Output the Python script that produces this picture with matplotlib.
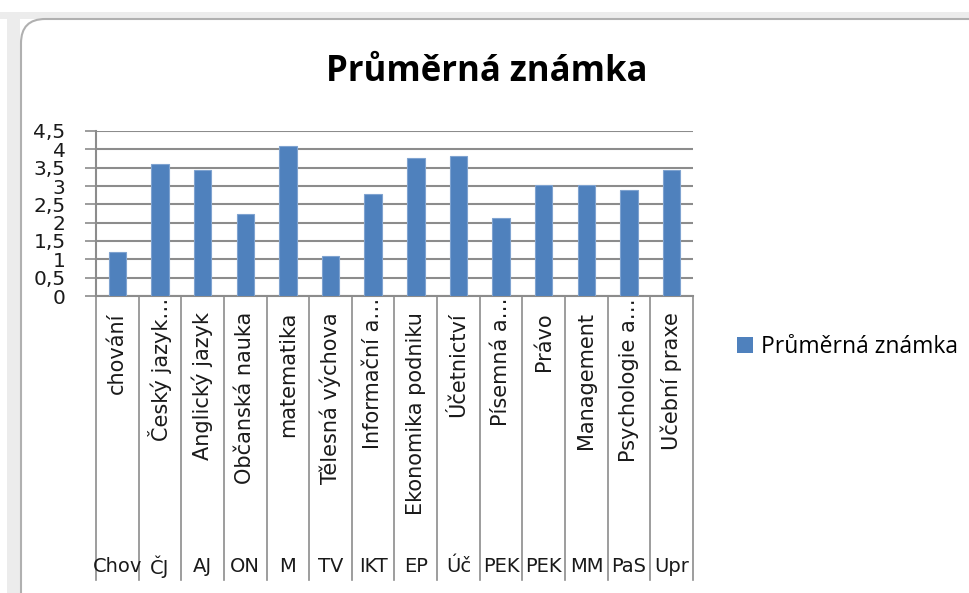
"""
Průměrná známka - Excel-style column chart with two-level category axis.
"""
import matplotlib
matplotlib.use('Agg')
import matplotlib.pyplot as plt
import matplotlib.transforms as mtransforms
from matplotlib.patches import FancyBboxPatch, Rectangle

plt.rcParams['font.family'] = ['Open Sans', 'DejaVu Sans']
label_font = ['DejaVu Sans']

# Data
subjects = ['chování', 'Český jazyk…', 'Anglický jazyk', 'Občanská nauka', 'matematika',
            'Tělesná výchova', 'Informační a…', 'Ekonomika podniku', 'Účetnictví',
            'Písemná a…', 'Právo', 'Management', 'Psychologie a…', 'Učební praxe']
abbrevs = ['Chov', 'ČJ', 'AJ', 'ON', 'M', 'TV', 'IKT', 'EP', 'Úč', 'PEK', 'PEK', 'MM', 'PaS', 'Upr']
grades = [1.2, 3.6, 3.43, 2.24, 4.1, 1.09, 2.79, 3.76, 3.82, 2.13, 3.02, 3.02, 2.9, 3.43]
yticks = [0, 0.5, 1, 1.5, 2, 2.5, 3, 3.5, 4, 4.5]
ytick_labels = ['0', '0,5', '1', '1,5', '2', '2,5', '3', '3,5', '4', '4,5']

W, H = 969, 593
fig = plt.figure(figsize=(W / 100, H / 100), dpi=100)
fig.patch.set_facecolor('white')

# Spreadsheet edges and chart frame (behind the axes)
fig.patches.append(Rectangle((0, 1 - 19 / H), 1, 7 / H, transform=fig.transFigure,
                             facecolor='#ececec', edgecolor='none', zorder=-10))
fig.patches.append(Rectangle((7 / W, 0), 13 / W, 1 - 12 / H, transform=fig.transFigure,
                             facecolor='#ececec', edgecolor='none', zorder=-10))
fig.patches.append(FancyBboxPatch((21 / W, -0.05), 1.1, 1 - 19 / H + 0.05,
                                  boxstyle='round,pad=0,rounding_size=0.025',
                                  transform=fig.transFigure, facecolor='white',
                                  edgecolor='#b0b0b0', linewidth=1.5, zorder=-9,
                                  mutation_aspect=W / H))

left, right, bottom, top = 96, 693, 296, 131
ax = fig.add_axes([left / W, 1 - bottom / H, (right - left) / W, (bottom - top) / H])
ax.set_facecolor('none')

x = list(range(len(subjects)))
ax.bar(x, grades, width=0.41, color='#4f81bd', edgecolor='#7fa3d0', linewidth=0.8, zorder=3)

ax.set_xlim(-0.5, len(subjects) - 0.5)
ax.set_ylim(0, 4.5)
ax.set_yticks(yticks)
ax.set_yticklabels(ytick_labels, fontsize=14.5, family=label_font, color='#1a1a1a')
ax.tick_params(axis='y', length=8, width=1.2, color='#8c8c8c', pad=14)
ax.set_xticks([])
ax.grid(axis='y', color='#8c8c8c', linewidth=1.5, zorder=1)
for s in ['top', 'right']:
    ax.spines[s].set_visible(False)
for s in ['left', 'bottom']:
    ax.spines[s].set_color('#8c8c8c')
    ax.spines[s].set_linewidth(1.5)

# Two-level category axis below the plot
trans = mtransforms.blended_transform_factory(ax.transData, fig.transFigure)
y_axis = 1 - bottom / H
y_end = 1 - 580 / H
for b in range(len(subjects) + 1):
    ax.plot([b - 0.5, b - 0.5], [y_axis, y_end], transform=trans, color='#8c8c8c',
            linewidth=1.2, clip_on=False)
for i, (name, ab) in enumerate(zip(subjects, abbrevs)):
    ytop = 298 if name.endswith('…') else 312
    ax.text(i, 1 - ytop / H, name, transform=trans, rotation=90, ha='center', va='top',
            fontsize=15, family=label_font, color='#1a1a1a')
    ax.text(i, 1 - 567 / H, ab, transform=trans, ha='center', va='center',
            fontsize=14, family=label_font, color='#1a1a1a')

fig.text(487 / W, 1 - 72 / H, 'Průměrná známka', ha='center', va='center',
         fontsize=25, fontweight='bold', color='black')

handle = Rectangle((0, 0), 1, 1, facecolor='#4f81bd', edgecolor='none')
fig.legend([handle], ['Průměrná známka'], loc='center left',
           bbox_to_anchor=(716 / W, 1 - 347 / H), frameon=False, fontsize=16.5,
           handlelength=0.7, handleheight=0.7, handletextpad=0.35)

fig.savefig('out.png', dpi=100, facecolor='white')
